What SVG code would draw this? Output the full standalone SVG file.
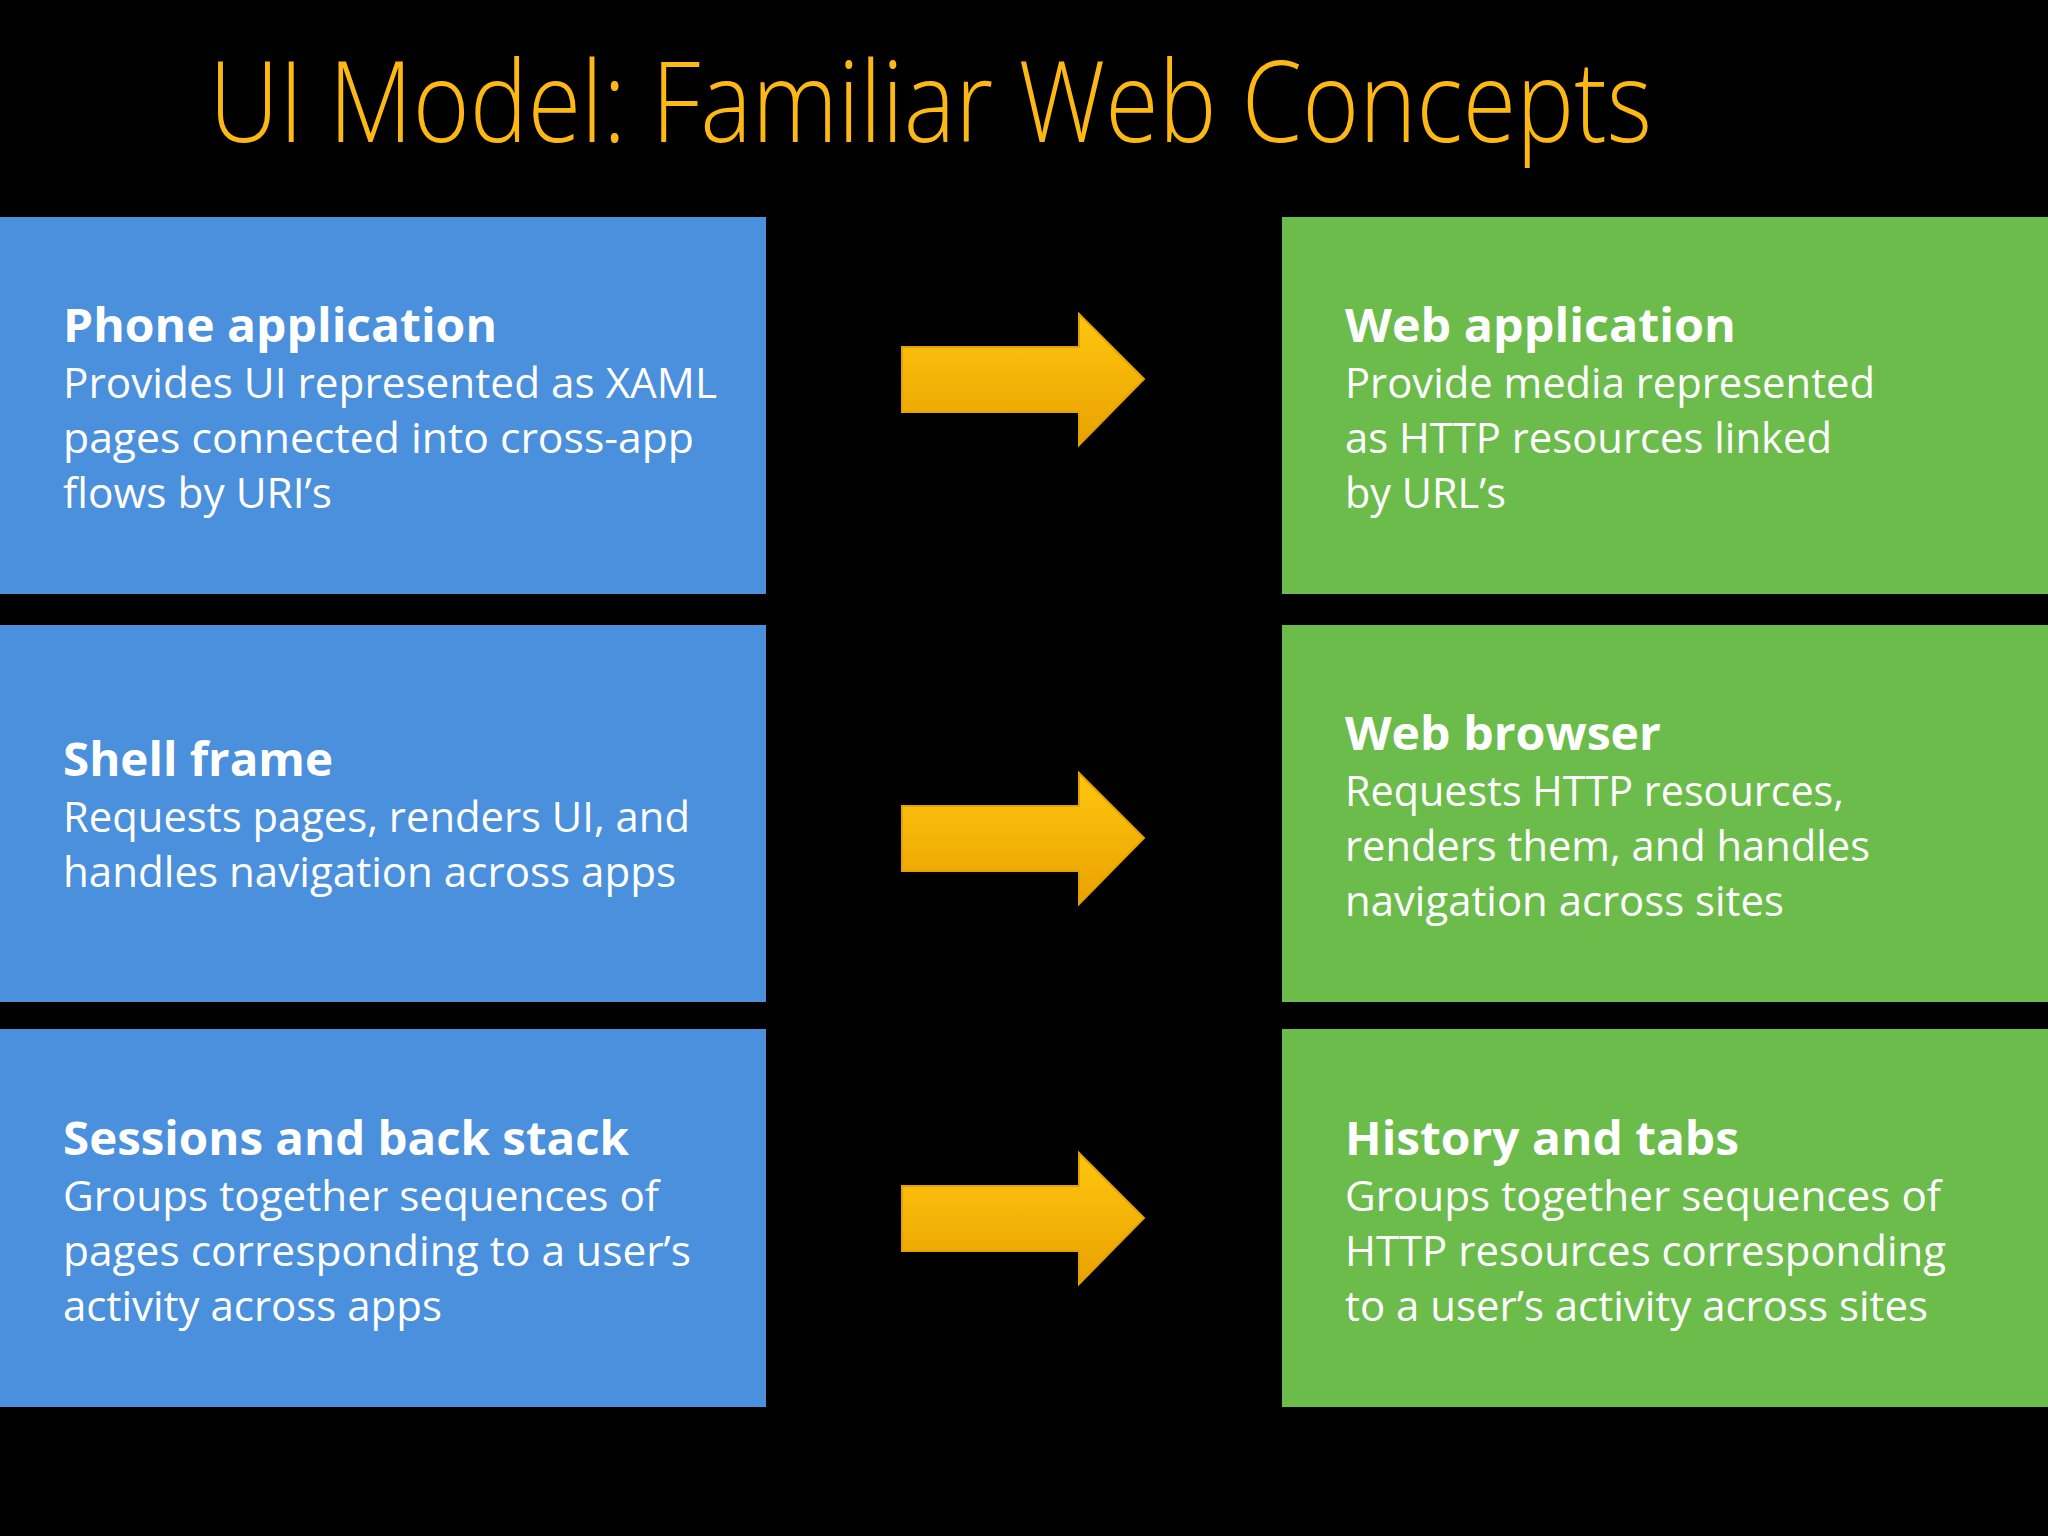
<svg xmlns="http://www.w3.org/2000/svg" width="2048" height="1536" viewBox="0 0 2048 1536">
<style>
.title{font-family:"Open Sans","Liberation Sans",sans-serif;font-weight:300;font-size:113px;fill:#FDB813}
.blue{fill:#4A90DC}
.green{fill:#6BBC4B}
.h{font-family:"Open Sans","Liberation Sans",sans-serif;font-weight:700;font-size:46px;fill:#fff}
.b{font-family:"Open Sans","Liberation Sans",sans-serif;font-weight:400;font-size:42px;fill:#fff}
.arrow{fill:url(#ag);stroke:#E3A200;stroke-width:2}
</style>
<defs>
<linearGradient id="ag" x1="0" y1="0" x2="0" y2="1">
<stop offset="0" stop-color="#FFC60F"/>
<stop offset="1" stop-color="#E9A200"/>
</linearGradient>
<path id="arr" class="arrow" d="M902,-32 L1079,-32 L1079,-65 L1144,0 L1079,66 L1079,33 L902,33 Z"/>
</defs>
<rect width="2048" height="1536" fill="#000"/>
<text class="title" x="209" y="142" textLength="1443" lengthAdjust="spacingAndGlyphs">UI Model: Familiar Web Concepts</text>

<g id="phone-application">
<rect class="blue" x="0" y="217" width="766" height="377"/>
<text class="h" x="63" y="342" textLength="434" lengthAdjust="spacingAndGlyphs">Phone application</text>
<text class="b" x="63" y="398" textLength="654" lengthAdjust="spacingAndGlyphs">Provides UI represented as XAML</text>
<text class="b" x="63" y="453" textLength="631" lengthAdjust="spacingAndGlyphs">pages connected into cross-app</text>
<text class="b" x="63" y="508" textLength="269" lengthAdjust="spacingAndGlyphs">flows by URI’s</text>
</g>

<g id="shell-frame">
<rect class="blue" x="0" y="625" width="766" height="377"/>
<text class="h" x="63" y="776" textLength="270" lengthAdjust="spacingAndGlyphs">Shell frame</text>
<text class="b" x="63" y="832" textLength="627" lengthAdjust="spacingAndGlyphs">Requests pages, renders UI, and</text>
<text class="b" x="63" y="887" textLength="613" lengthAdjust="spacingAndGlyphs">handles navigation across apps</text>
</g>

<g id="sessions-back-stack">
<rect class="blue" x="0" y="1029" width="766" height="378"/>
<text class="h" x="63" y="1155" textLength="566" lengthAdjust="spacingAndGlyphs">Sessions and back stack</text>
<text class="b" x="63" y="1211" textLength="596" lengthAdjust="spacingAndGlyphs">Groups together sequences of</text>
<text class="b" x="63" y="1266" textLength="628" lengthAdjust="spacingAndGlyphs">pages corresponding to a user’s</text>
<text class="b" x="63" y="1321" textLength="379" lengthAdjust="spacingAndGlyphs">activity across apps</text>
</g>

<g id="web-application">
<rect class="green" x="1282" y="217" width="766" height="377"/>
<text class="h" x="1345" y="342" textLength="391" lengthAdjust="spacingAndGlyphs">Web application</text>
<text class="b" x="1345" y="398" textLength="530" lengthAdjust="spacingAndGlyphs">Provide media represented</text>
<text class="b" x="1345" y="453" textLength="487" lengthAdjust="spacingAndGlyphs">as HTTP resources linked</text>
<text class="b" x="1345" y="508" textLength="161" lengthAdjust="spacingAndGlyphs">by URL’s</text>
</g>

<g id="web-browser">
<rect class="green" x="1282" y="625" width="766" height="377"/>
<text class="h" x="1345" y="750" textLength="316" lengthAdjust="spacingAndGlyphs">Web browser</text>
<text class="b" x="1345" y="806" textLength="499" lengthAdjust="spacingAndGlyphs">Requests HTTP resources,</text>
<text class="b" x="1345" y="861" textLength="525" lengthAdjust="spacingAndGlyphs">renders them, and handles</text>
<text class="b" x="1345" y="916" textLength="439" lengthAdjust="spacingAndGlyphs">navigation across sites</text>
</g>

<g id="history-tabs">
<rect class="green" x="1282" y="1029" width="766" height="378"/>
<text class="h" x="1345" y="1155" textLength="394" lengthAdjust="spacingAndGlyphs">History and tabs</text>
<text class="b" x="1345" y="1211" textLength="596" lengthAdjust="spacingAndGlyphs">Groups together sequences of</text>
<text class="b" x="1345" y="1266" textLength="601" lengthAdjust="spacingAndGlyphs">HTTP resources corresponding</text>
<text class="b" x="1345" y="1321" textLength="583" lengthAdjust="spacingAndGlyphs">to a user’s activity across sites</text>
</g>

<g id="connectors">
<use href="#arr" y="379"/>
<use href="#arr" y="838"/>
<use href="#arr" y="1218"/>
</g>
</svg>
